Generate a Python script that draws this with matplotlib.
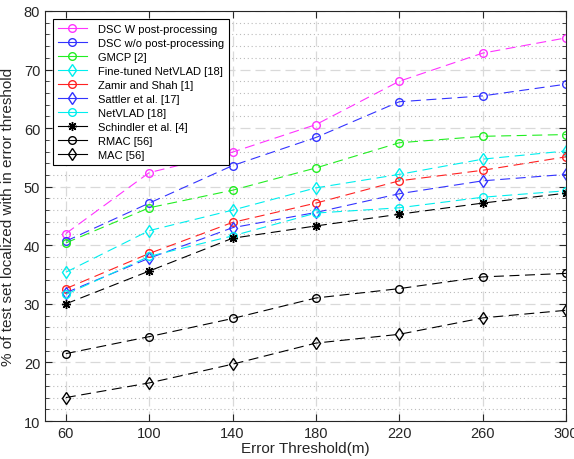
import numpy as np
import matplotlib
matplotlib.use("Agg")
import matplotlib.pyplot as plt
from matplotlib.ticker import MultipleLocator

plt.rcParams['font.family'] = ['Liberation Sans', 'DejaVu Sans']

thresholds = [60, 100, 140, 180, 220, 260, 300]

dsc_w = [42.0, 52.4, 55.9, 60.6, 68.0, 72.8, 75.4]
dsc_wo = [40.7, 47.2, 53.6, 58.4, 64.5, 65.5, 67.5]
gmcp = [40.4, 46.4, 49.4, 53.2, 57.5, 58.6, 58.9]
ft_netvlad = [35.4, 42.5, 46.0, 49.8, 52.1, 54.7, 56.1]
zamir = [32.6, 38.6, 43.9, 47.2, 51.0, 52.8, 55.1]
sattler = [31.9, 37.8, 43.0, 45.6, 48.8, 51.0, 52.1]
netvlad = [31.6, 38.1, 41.6, 45.5, 46.4, 48.2, 49.3]
schindler = [30.0, 35.6, 41.2, 43.3, 45.3, 47.2, 48.9]
rmac = [21.5, 24.4, 27.5, 31.0, 32.6, 34.6, 35.2]
mac = [14.0, 16.5, 19.7, 23.3, 24.8, 27.6, 28.9]

series = [
    ("DSC W post-processing", dsc_w, "#ff33ff", "o"),
    ("DSC w/o post-processing", dsc_wo, "#3333ff", "o"),
    ("GMCP [2]", gmcp, "#22ee22", "o"),
    ("Fine-tuned NetVLAD [18]", ft_netvlad, "#00eeee", "d"),
    ("Zamir and Shah [1]", zamir, "#ff2222", "o"),
    ("Sattler et al. [17]", sattler, "#3333ff", "d"),
    ("NetVLAD [18]", netvlad, "#00eeee", "o"),
    ("Schindler et al. [4]", schindler, "#000000", (8, 2, 0)),
    ("RMAC [56]", rmac, "#000000", "o"),
    ("MAC [56]", mac, "#000000", "d"),
]

fig = plt.figure(figsize=(5.74, 4.6), dpi=100)
ax = fig.add_axes([0.0784, 0.0826, 0.9076, 0.8914])

for name, vals, col, mk in series:
    ms = 5.5 if mk == "o" else 6.5
    ax.plot(thresholds, vals, color=col, linestyle=(0, (9, 5)), linewidth=0.8,
            marker=mk, markersize=ms, markerfacecolor="none",
            markeredgecolor=col, markeredgewidth=1.0, label=name)

ax.set_xlim(50, 300)
ax.set_ylim(10, 80)
ax.set_xticks(thresholds)
ax.yaxis.set_major_locator(MultipleLocator(10))
ax.yaxis.set_minor_locator(MultipleLocator(2))
ax.grid(which="major", color="#d9d9d9", linestyle=(0, (8, 4)), linewidth=0.9)
ax.grid(which="minor", axis="y", color="#bbbbbb", linestyle=(0, (1, 2.5)), linewidth=0.8)
ax.set_axisbelow(True)

ax.tick_params(which="both", direction="in", top=True, right=True, labelsize=10.5,
               colors="#262626")
ax.tick_params(which="major", length=5)
ax.tick_params(which="minor", length=3)
for s in ax.spines.values():
    s.set_color("#262626")
    s.set_linewidth(0.8)

ax.set_xlabel("Error Threshold(m)", fontsize=11, color="#262626", labelpad=1)
ax.set_ylabel("% of test set localized with in error threshold", fontsize=11,
              color="#262626", labelpad=6)

leg = ax.legend(loc="upper left", bbox_to_anchor=(0.015, 0.98), fontsize=8,
                frameon=True, fancybox=False, edgecolor="#000000", framealpha=1,
                handlelength=2.6, borderpad=0.45, labelspacing=0.36, handletextpad=1.0,
                borderaxespad=0)
leg.get_frame().set_linewidth(0.8)
for ln in leg.get_lines():
    ln.set_linestyle("-")

fig.savefig("out.png", dpi=100)
